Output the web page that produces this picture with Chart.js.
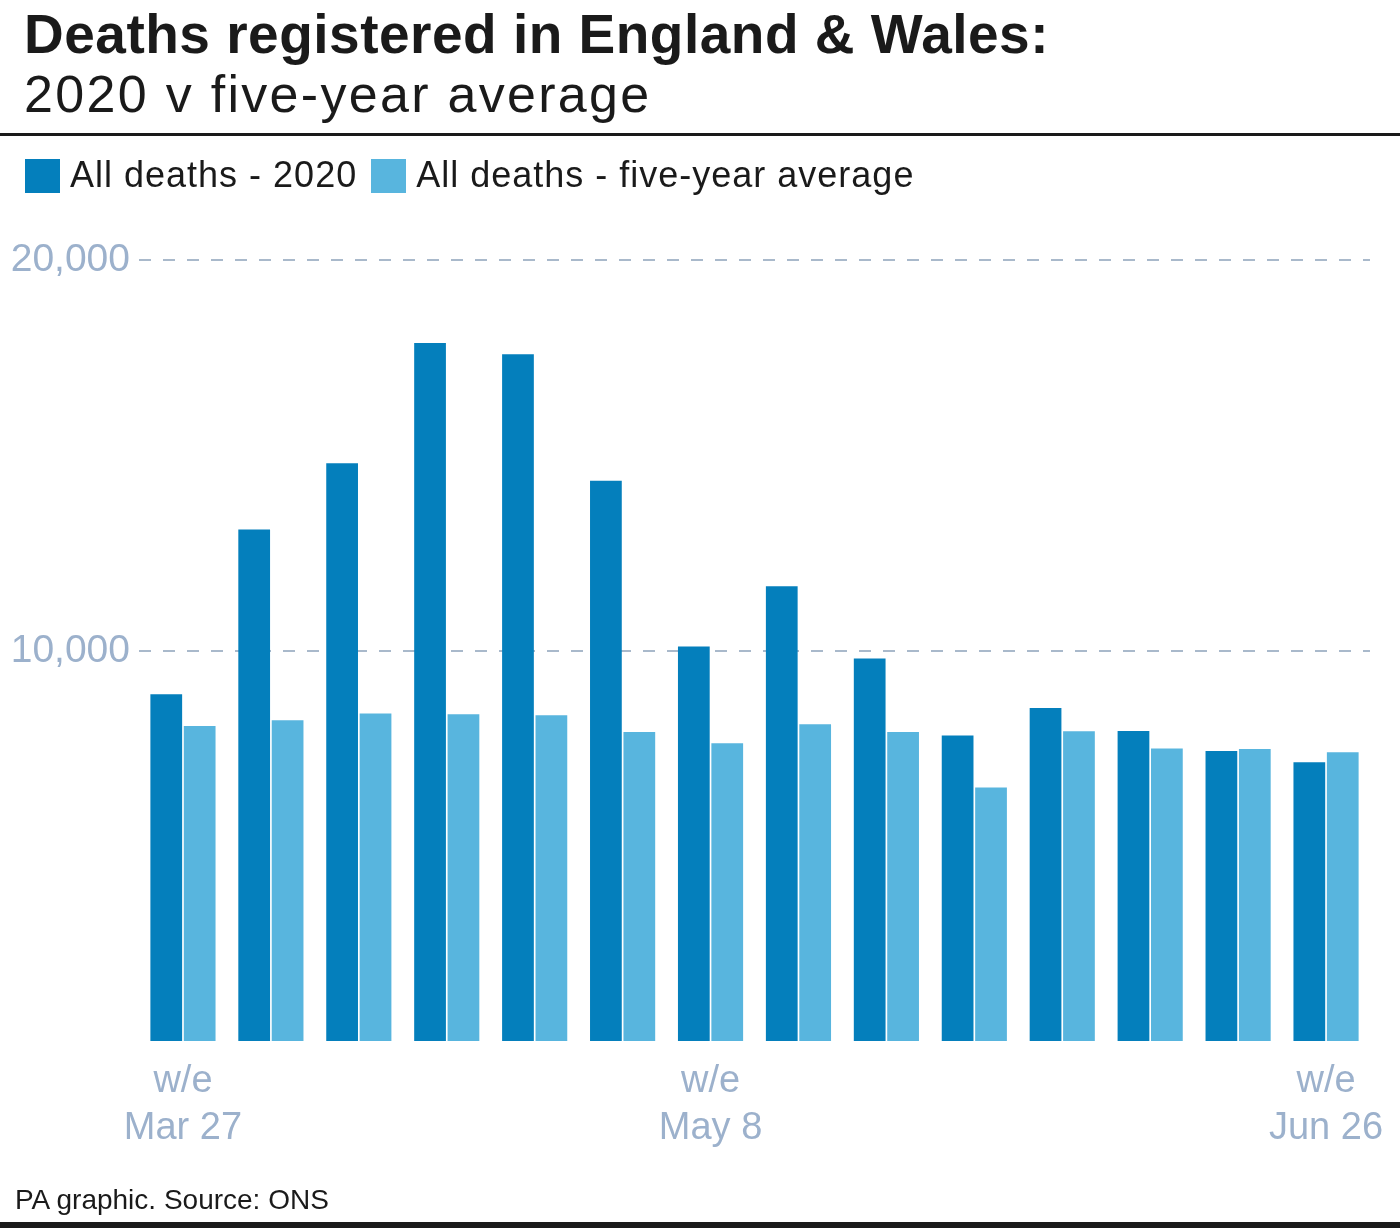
<!DOCTYPE html>
<html>
<head>
<meta charset="utf-8">
<script src="https://cdn.jsdelivr.net/npm/chart.js@4"></script>
<style>
  body { margin: 0; background: #fff; font-family: "Liberation Sans", Arial, sans-serif; }
  #wrap { position: relative; width: 1400px; height: 1228px; overflow: hidden; }
  #chart { position: absolute; left: 0; top: 0; }
  .txt { position: absolute; white-space: nowrap; color: #1a1a1a; }
  #title { left: 24px; top: 4px; font-size: 55px; font-weight: bold; letter-spacing: 0.5px; line-height: 60px; }
  #subtitle { left: 24px; top: 64px; font-size: 52px; letter-spacing: 2.3px; line-height: 60px; }
  #rule { position: absolute; left: 0; top: 133px; width: 1400px; height: 3px; background: #1a1a1a; }
  #legend { position: absolute; left: 25px; top: 155px; font-size: 36px; letter-spacing: 1px; line-height: 40px; }
  #legend span.box { display: inline-block; width: 35px; height: 34px; vertical-align: -6px; margin-right: 10px; }
  #legend span.lab { margin-right: 14px; }
  #footer { left: 15px; top: 1184px; font-size: 28px; letter-spacing: 0px; line-height: 32px; }
  #base { position: absolute; left: 0; top: 1222px; width: 1400px; height: 6px; background: #1a1a1a; }
</style>
</head>
<body>
<div id="wrap">
  <canvas id="chart" width="1400" height="1228"></canvas>
  <div class="txt" id="title">Deaths registered in England &amp; Wales:</div>
  <div class="txt" id="subtitle">2020 v five-year average</div>
  <div id="rule"></div>
  <div class="txt" id="legend"></div>
  <div class="txt" id="footer">PA graphic. Source: ONS</div>
  <div id="base"></div>
</div>
<script>
// week-ending labels (only three shown on the axis)
const weeks = [
  ['w/e', 'Mar 27'], '', '', '', '', '',
  ['w/e', 'May 8'], '', '', '', '', '', '',
  ['w/e', 'Jun 26']
];
const deaths2020 = [8894, 13109, 14803, 17880, 17588, 14354, 10112, 11653, 9806, 7839, 8544, 7956, 7445, 7156];
const fiveYearAvg = [8084, 8229, 8401, 8383, 8357, 7931, 7642, 8127, 7931, 6510, 7948, 7506, 7496, 7412];
const yTicks = [0, 10000, 20000];

const seriesNames = ['All deaths - 2020', 'All deaths - five-year average'];
const colours = ['#047fbc', '#58b5de'];
const axisText = '#9cb1cc';
const gridCol = '#a9b9cb';

// legend in html
const legendEl = document.getElementById('legend');
seriesNames.forEach(function(name, i) {
    legendEl.innerHTML += '<span class="box" style="background:' + colours[i] + '"></span><span class="lab">' + name + '</span>';
});

const ctx = document.getElementById('chart').getContext('2d');
new Chart(ctx, {
    type: 'bar',
    data: {
        labels: weeks,
        datasets: [
            { label: seriesNames[0], data: deaths2020, backgroundColor: colours[0] },
            { label: seriesNames[1], data: fiveYearAvg, backgroundColor: colours[1] }
        ]
    },
    options: {
        responsive: false,
        animation: false,
        categoryPercentage: 0.76,
        barPercentage: 0.95,
        layout: { padding: { top: 260, right: 30, bottom: 56, left: 0 } },
        plugins: {
            legend: { display: false },
            tooltip: { enabled: false }
        },
        scales: {
            x: {
                grid: { display: false },
                border: { display: false },
                ticks: {
                    autoSkip: false,
                    maxRotation: 0,
                    padding: 8,
                    color: axisText,
                    font: { family: '"Liberation Sans", Arial, sans-serif', size: 38, lineHeight: 1.24 }
                },
                afterFit: function(scale) { scale.height = 130; }
            },
            y: {
                min: 0,
                max: 20000,
                afterBuildTicks: function(scale) {
                    scale.ticks = yTicks.map(function(v) { return { value: v }; });
                },
                grid: {
                    color: function(c) { return c.tick && c.tick.value === 0 ? 'rgba(0,0,0,0)' : gridCol; },
                    lineWidth: 2,
                    drawTicks: false
                },
                border: { display: false, dash: [12, 12] },
                ticks: {
                    padding: 9,
                    color: axisText,
                    font: { family: '"Liberation Sans", Arial, sans-serif', size: 39 },
                    callback: function(v) { return v === 0 ? '' : v.toLocaleString('en-GB'); }
                },
                afterFit: function(scale) { scale.width = 139; }
            }
        }
    }
});
</script>
</body>
</html>
